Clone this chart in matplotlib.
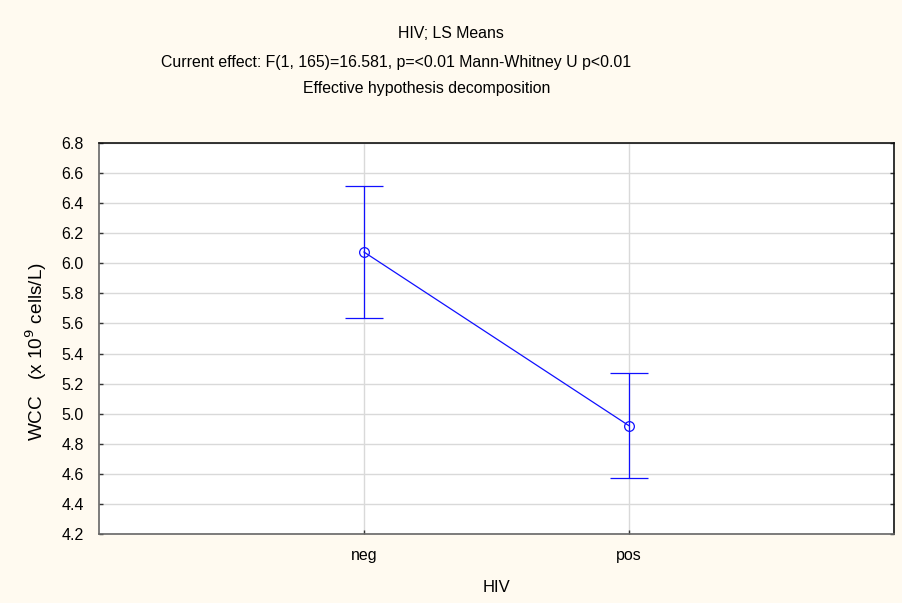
import matplotlib
matplotlib.use("Agg")
import matplotlib.pyplot as plt
import numpy as np

categories = ["neg", "pos"]
means = [6.075, 4.92]
errors = [0.437, 0.35]
yticks = [4.2, 4.4, 4.6, 4.8, 5.0, 5.2, 5.4, 5.6, 5.8, 6.0, 6.2, 6.4, 6.6, 6.8]

plt.rcParams['font.family'] = ['Liberation Sans', 'DejaVu Sans']

fig = plt.figure(figsize=(9.03, 6.03), dpi=100, facecolor='#fffaf0')
ax = fig.add_axes([99/903, 1-534/603, (894-99)/903, (534-143)/603])
ax.set_facecolor('white')

x = np.arange(len(categories))
blue = '#1010ff'
ax.errorbar(x, means, yerr=errors, color=blue, lw=0.9, marker='o', ms=7,
            mfc='none', mec=blue, mew=0.9, capsize=13.5, capthick=1.0, ecolor=blue, zorder=3)

ax.set_xlim(-1, 2)
ax.set_ylim(4.2, 6.8)
ax.set_xticks(x)
ax.set_xticklabels(categories, fontsize=11.5)
ax.set_yticks(yticks)
ax.set_yticklabels([f"{v:.1f}" for v in yticks], fontsize=11.5)
ax.grid(True, color='#d9d9d9', lw=1.0)
ax.set_axisbelow(True)
ax.tick_params(direction='in', length=3, width=1, color='#333333', right=True, top=False)
ax.tick_params(axis='y', pad=11)
ax.tick_params(axis='x', pad=10)
for s in ['top', 'right']:
    ax.spines[s].set_color('#111111')
for s in ['left', 'bottom']:
    ax.spines[s].set_color('#666666')
for s in ax.spines.values():
    s.set_linewidth(1.2)

ax.set_xlabel("HIV", fontsize=12, labelpad=12)
fig.text(36/903, 1-351/603, r"WCC   (x 10$^{9}$ cells/L)", rotation=90,
         ha='center', va='center', fontsize=13.7)

fig.text(451/903, 1-33/603, "HIV; LS Means", ha='center', va='center', fontsize=11.4)
fig.text(396/903, 1-62/603, "Current effect: F(1, 165)=16.581, p=<0.01 Mann-Whitney U p<0.01",
         ha='center', va='center', fontsize=11.4)
fig.text(427/903, 1-89/603, "Effective hypothesis decomposition", ha='center', va='center', fontsize=11.4)

fig.savefig("out.png", dpi=100, facecolor=fig.get_facecolor())
